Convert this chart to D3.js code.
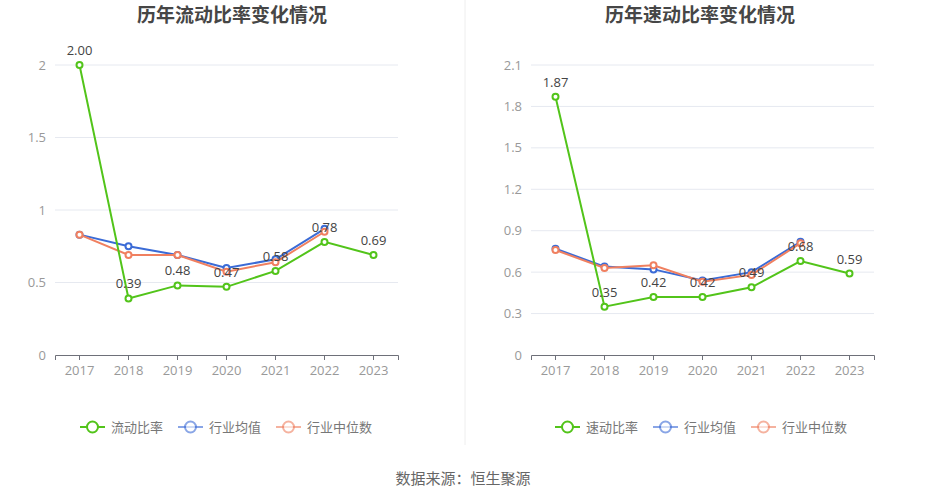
<!DOCTYPE html>
<html><head><meta charset="utf-8">
<script src="https://cdn.jsdelivr.net/npm/d3@7"></script>
<style>body{margin:0;background:#fff;font-family:"Microsoft YaHei","Noto Sans CJK SC",sans-serif}</style>
</head><body><svg id="c" width="926" height="500"></svg>
<script>
const years = ["2017","2018","2019","2020","2021","2022","2023"];
const currentRatio = [2.00,0.39,0.48,0.47,0.58,0.78,0.69];
const currentAvg = [0.83,0.75,0.69,0.60,0.66,0.87];
const currentMedian = [0.83,0.69,0.69,0.575,0.64,0.85];
const quickRatio = [1.87,0.35,0.42,0.42,0.49,0.68,0.59];
const quickAvg = [0.77,0.64,0.62,0.54,0.60,0.82];
const quickMedian = [0.76,0.63,0.65,0.53,0.58,0.81];
const leftTicks = [0,0.5,1,1.5,2];
const rightTicks = [0,0.3,0.6,0.9,1.2,1.5,1.8,2.1];

const svg = d3.select("#c");
const GREEN="#52c41a", BLUE="#3b6bd6", ORANGE="#f08060";
const font = '"Noto Sans CJK SC",sans-serif';
const numFont = '"Open Sans","Noto Sans",sans-serif';

function chart(cfg){
  const g = svg.append("g");
  const x = d3.scaleBand().domain(years).range([cfg.x0,cfg.x1]);
  const y = d3.scaleLinear().domain([0,cfg.max]).range([355,65]);
  const cx = d => x(d)+x.bandwidth()/2;
  g.append("text").attr("x",cfg.tx).attr("y",22).attr("text-anchor","middle")
   .attr("font-size",19).attr("font-weight","bold").attr("fill","#464646").attr("font-family",font).text(cfg.title);
  g.selectAll(".grid").data(cfg.ticks.slice(1)).enter().append("line")
   .attr("x1",cfg.x0).attr("x2",cfg.x1).attr("y1",d=>y(d)).attr("y2",d=>y(d))
   .attr("stroke","#e6e9f0").attr("stroke-width",1);
  g.selectAll(".yl").data(cfg.ticks).enter().append("text")
   .attr("x",cfg.x0-9).attr("y",d=>y(d)).attr("dy","0.35em").attr("text-anchor","end")
   .attr("font-size",13).attr("fill","#999").attr("font-family",numFont).text(d=>d);
  const xa = g.append("g").attr("transform","translate(0,355)").call(d3.axisBottom(x).tickSize(5).tickPadding(6));
  xa.select(".domain").attr("stroke","#6e7079");
  xa.selectAll(".tick line").attr("stroke","#6e7079");
  xa.selectAll("text").attr("font-size",13).attr("fill","#999").attr("font-family",numFont);
  const line = d3.line().x((d,i)=>cx(years[i])).y(d=>y(d));
  const series = [[cfg.avg,BLUE],[cfg.med,ORANGE],[cfg.main,GREEN]];
  series.forEach(([data,col])=>{
    g.append("path").attr("d",line(data)).attr("fill","none").attr("stroke",col).attr("stroke-width",2);
    g.selectAll(null).data(data).enter().append("circle")
     .attr("cx",(d,i)=>cx(years[i])).attr("cy",d=>y(d)).attr("r",3)
     .attr("fill","#fff").attr("stroke",col).attr("stroke-width",2);
  });
  g.selectAll(".lbl").data(cfg.main).enter().append("text")
   .attr("x",(d,i)=>cx(years[i])).attr("y",d=>y(d)-10).attr("text-anchor","middle")
   .attr("font-size",13).attr("fill","#444").attr("font-family",numFont).text(d=>d.toFixed(2));
  const items=[[cfg.name,GREEN,1],["行业均值",BLUE,0.6],["行业中位数",ORANGE,0.6]];
  items.forEach(([t,col,op],i)=>{
    const lx = cfg.lx + i*98;
    const lg = g.append("g").attr("transform",`translate(${lx},427)`);
    lg.append("line").attr("x1",0).attr("x2",25).attr("stroke",col).attr("stroke-width",2).attr("opacity",op);
    lg.append("circle").attr("cx",12.5).attr("r",5.5).attr("fill","#fff").attr("stroke",col).attr("stroke-width",2).attr("opacity",op);
    lg.append("text").attr("x",31).attr("dy","0.35em").attr("font-size",13).attr("fill","#777").attr("font-family",font).text(t);
  });
}
chart({x0:55,x1:398,max:2,ticks:leftTicks,title:"历年流动比率变化情况",tx:232,main:currentRatio,avg:currentAvg,med:currentMedian,name:"流动比率",lx:80});
chart({x0:531,x1:874,max:2.1,ticks:rightTicks,title:"历年速动比率变化情况",tx:700,main:quickRatio,avg:quickAvg,med:quickMedian,name:"速动比率",lx:555});
svg.append("line").attr("x1",465).attr("x2",465).attr("y1",0).attr("y2",445).attr("stroke","#eee").attr("stroke-width",1);
svg.append("text").attr("x",463).attr("y",484).attr("text-anchor","middle").attr("font-size",15).attr("fill","#666").attr("font-family",font).text("数据来源：恒生聚源");
</script></body></html>
